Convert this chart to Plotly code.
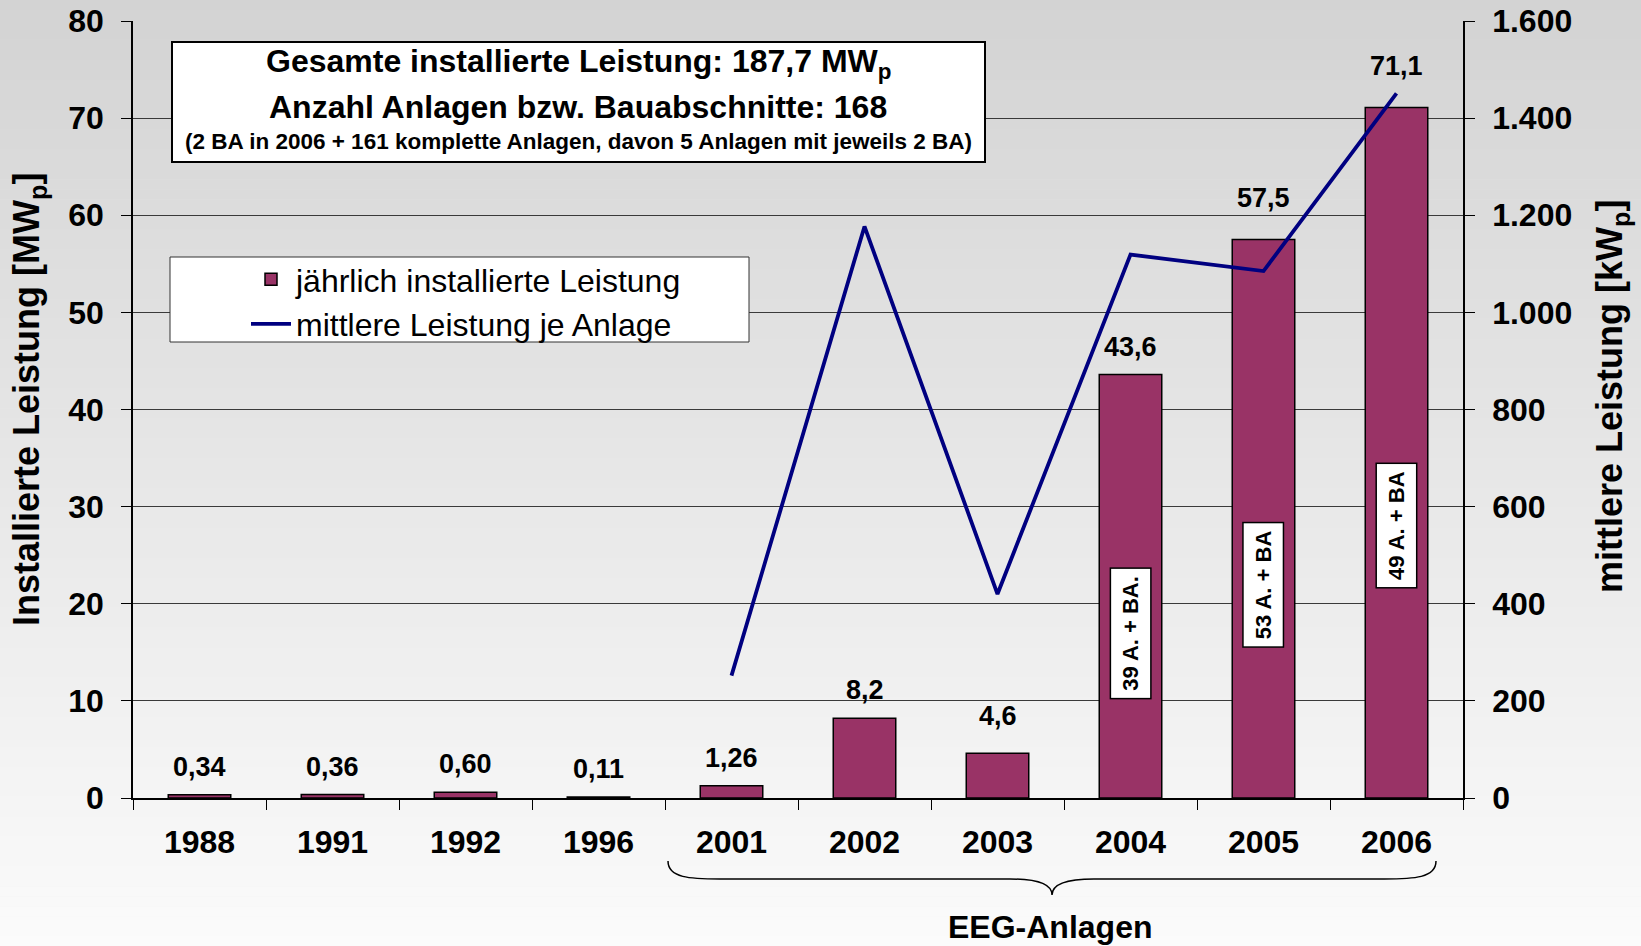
import plotly.graph_objects as go

# ---------------- data ----------------
years = ["1988", "1991", "1992", "1996", "2001", "2002", "2003", "2004", "2005", "2006"]
installed_mw = [0.34, 0.36, 0.60, 0.11, 1.26, 8.2, 4.6, 43.6, 57.5, 71.1]
value_labels = ["0,34", "0,36", "0,60", "0,11", "1,26", "8,2", "4,6", "43,6", "57,5", "71,1"]
line_years = ["2001", "2002", "2003", "2004", "2005", "2006"]
mean_kw = [252, 1177, 420, 1119, 1085, 1451]
plant_label_years = ["2004", "2005", "2006"]
plant_labels = ["39 A. + BA.", "53 A. + BA", "49 A. + BA"]
left_ticks = [0, 10, 20, 30, 40, 50, 60, 70, 80]
right_ticks = [0, 200, 400, 600, 800, 1000, 1200, 1400, 1600]

# ---------------- layout helpers (pixels -> paper) ----------------
W, H = 1641, 946
PL, PT, PW, PH = 133, 21, 1330, 777
def px(x):
    return (x - PL) / PW
def py(y):
    return (PT + PH - y) / PH

FONT = "Liberation Sans, Arial, sans-serif"
BAR_COLOR = "#993366"
LINE_COLOR = "#000080"

fig = go.Figure()
fig.add_trace(go.Bar(
    x=years, y=installed_mw, name="jährlich installierte Leistung",
    marker=dict(color=BAR_COLOR, line=dict(color="black", width=1.5)),
))
fig.add_trace(go.Scatter(
    x=line_years, y=mean_kw, yaxis="y2", mode="lines",
    name="mittlere Leistung je Anlage",
    line=dict(color=LINE_COLOR, width=3.8),
))

shapes = []
# background gradient
n = 95
for i in range(n):
    y0 = i * H / n
    y1 = (i + 1) * H / n
    c = int(round(211 + (251 - 211) * (i + 0.5) / n))
    shapes.append(dict(type="rect", xref="paper", yref="paper",
                       x0=px(-2), x1=px(W + 2), y0=py(y0 - (2 if i == 0 else 0)), y1=py(y1 + 0.6),
                       fillcolor=f"rgb({c},{c},{c})", line=dict(width=0), layer="below"))
# info box
shapes.append(dict(type="rect", xref="paper", yref="paper",
                   x0=px(172), x1=px(985), y0=py(42), y1=py(162),
                   fillcolor="white", line=dict(color="black", width=2), layer="above"))
# legend box
shapes.append(dict(type="rect", xref="paper", yref="paper",
                   x0=px(170), x1=px(749), y0=py(257), y1=py(342),
                   fillcolor="white", line=dict(color="#333333", width=1), layer="above"))
# brace under EEG years
pts = [(668, 861), (668, 878), (690, 879), (720, 879), (1010, 879), (1040, 879), (1052, 885), (1052, 895),
       (1052, 885), (1064, 879), (1094, 879), (1384, 879), (1414, 879), (1436, 878), (1436, 861)]
P = [(px(a), py(b)) for a, b in pts]
path = (f"M{P[0][0]},{P[0][1]} C{P[1][0]},{P[1][1]} {P[2][0]},{P[2][1]} {P[3][0]},{P[3][1]} "
        f"L{P[4][0]},{P[4][1]} C{P[5][0]},{P[5][1]} {P[6][0]},{P[6][1]} {P[7][0]},{P[7][1]} "
        f"C{P[8][0]},{P[8][1]} {P[9][0]},{P[9][1]} {P[10][0]},{P[10][1]} "
        f"L{P[11][0]},{P[11][1]} C{P[12][0]},{P[12][1]} {P[13][0]},{P[13][1]} {P[14][0]},{P[14][1]}")
shapes.append(dict(type="path", xref="paper", yref="paper", path=path,
                   line=dict(color="black", width=1.5)))

annotations = []
# value labels above bars (x given as category index)
label_shift = {"4,6": 37, "57,5": 42, "71,1": 41}
for i, (v, t) in enumerate(zip(installed_mw, value_labels)):
    annotations.append(dict(x=i, y=v, xref="x", yref="y", text=t, showarrow=False,
                            xanchor="center", yanchor="middle",
                            yshift=label_shift.get(t, 28),
                            font=dict(family=FONT, size=27, color="black", weight="bold")))
# rotated plant count labels
plant_label_y = [16.9, 21.9, 28.0]
for yr, t, yy in zip(plant_label_years, plant_labels, plant_label_y):
    annotations.append(dict(x=years.index(yr), y=yy, xref="x", yref="y", text=t, showarrow=False,
                            xanchor="center", yanchor="middle",
                            textangle=-90, bgcolor="white", bordercolor="black",
                            borderwidth=1.5, borderpad=7,
                            font=dict(family=FONT, size=22, color="black", weight="bold")))

def paper_text(x, y, text, size, angle=0, bold=True):
    annotations.append(dict(x=px(x), y=py(y), xref="paper", yref="paper", showarrow=False,
                            xanchor="center", yanchor="middle", textangle=angle, text=text,
                            font=dict(family=FONT, size=size, color="black",
                                      weight="bold" if bold else "normal")))

# info box texts
paper_text(578, 63, "Gesamte installierte Leistung: 187,7 MW<sub>p</sub>", 32)
paper_text(578, 107, "Anzahl Anlagen bzw. Bauabschnitte: 168", 32)
paper_text(578, 141, "(2 BA in 2006 + 161 komplette Anlagen, davon 5 Anlagen mit jeweils 2 BA)", 22.5)
# axis titles
paper_text(29, 400, "Installierte Leistung [MW<sub>p</sub>]", 36, angle=-90)
paper_text(1612, 397, "mittlere Leistung [kW<sub>p</sub>]", 36, angle=-90)
paper_text(1050, 927, "EEG-Anlagen", 32)

tickfont = dict(family=FONT, size=32, color="black", weight="bold")
fig.update_layout(
    width=W, height=H,
    margin=dict(l=PL, r=W - PL - PW, t=PT, b=H - PT - PH, pad=0, autoexpand=False),
    paper_bgcolor="rgb(231,231,231)",
    plot_bgcolor="rgba(0,0,0,0)",
    separators=",.",
    bargap=0.53,
    shapes=shapes,
    annotations=annotations,
    showlegend=True,
    legend=dict(x=px(246), y=py(252), xanchor="left", yanchor="top",
                bgcolor="rgba(0,0,0,0)", borderwidth=0,
                font=dict(family=FONT, size=32, color="black"),
                tracegroupgap=0, itemwidth=40),
    xaxis=dict(type="category", categoryorder="array", categoryarray=years,
               range=[-0.5, 9.5], showline=True, linecolor="black", linewidth=1.5,
               ticks="outside", tickson="boundaries", ticklen=10, tickcolor="black",
               tickwidth=1, showgrid=False, tickfont=tickfont, ticklabelstandoff=15,
               automargin=False),
    yaxis=dict(range=[0, 80], tickvals=left_ticks, showline=True, linecolor="black",
               linewidth=1.5, ticks="outside", ticklen=10, tickcolor="black",
               showgrid=True, gridcolor="#3a3a3a", gridwidth=1, zeroline=False,
               tickfont=tickfont, ticklabelstandoff=11, automargin=False),
    yaxis2=dict(range=[0, 1600], tickvals=right_ticks, tickformat=",", overlaying="y",
                side="right", showline=True, linecolor="black", linewidth=1.5,
                ticks="outside", ticklen=10, tickcolor="black", showgrid=False,
                zeroline=False, tickfont=tickfont, ticklabelstandoff=11, automargin=False),
)

fig.write_html("out.html", config={"displayModeBar": False},
               post_script="document.body.style.margin='0';document.body.style.overflow='hidden';")
